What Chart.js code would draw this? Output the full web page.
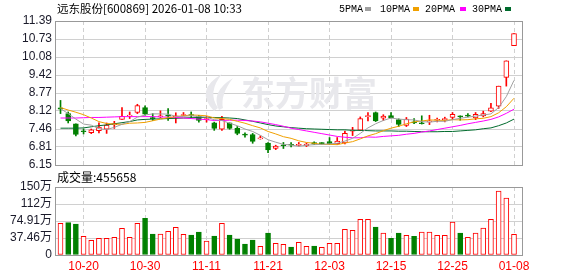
<!DOCTYPE html>
<html>
<head>
<meta charset="utf-8">
<script src="https://cdn.jsdelivr.net/npm/chart.js@4.4.1/dist/chart.umd.min.js"></script>
<style>
html, body { margin: 0; padding: 0; background: #fff; }
#wrap { position: relative; width: 578px; height: 276px; overflow: hidden; }
#wrap canvas { position: absolute; left: 0; }
</style>
</head>
<body>
<div id="wrap">
  <canvas id="kline" width="578" height="182" style="top:0"></canvas>
  <canvas id="vol" width="578" height="106" style="top:170px"></canvas>
</div>
<script>
// trading days shown (10-15 .. 01-08)
const dates = ['10-15','10-16','10-17','10-20','10-21','10-22','10-23','10-24','10-27','10-28',
  '10-29','10-30','10-31','11-03','11-04','11-05','11-06','11-07','11-10','11-11',
  '11-12','11-13','11-14','11-17','11-18','11-19','11-20','11-21','11-24','11-25',
  '11-26','11-27','11-28','12-01','12-02','12-03','12-04','12-05','12-08','12-09',
  '12-10','12-11','12-12','12-15','12-16','12-17','12-18','12-19','12-22','12-23',
  '12-24','12-25','12-26','12-29','12-30','12-31','01-05','01-06','01-07','01-08'];
const tickDates = ['10-20','10-30','11-11','11-21','12-03','12-15','12-25','01-08'];

const open = [8.23,8.02,7.65,7.37,7.33,7.40,7.45,7.62,7.81,7.93,
  8.06,8.24,7.87,7.90,7.96,7.90,7.95,7.96,7.92,7.80,
  7.68,7.45,7.68,7.48,7.25,7.26,7.10,6.95,6.75,6.86,
  6.88,6.86,6.85,6.97,6.94,7.00,6.93,6.95,7.38,7.42,
  7.91,8.06,7.85,7.95,7.80,7.59,7.70,7.68,7.72,7.78,
  7.80,7.88,7.94,7.95,7.86,7.94,8.11,8.29,9.34,10.49];
const high = [8.50,8.08,7.65,7.46,7.46,7.68,7.68,7.74,8.24,8.08,
  8.36,8.30,8.02,8.12,8.20,8.05,8.06,8.08,7.96,7.92,
  7.71,7.92,7.68,7.55,7.32,7.30,7.21,6.97,6.87,6.97,
  6.97,6.97,6.95,6.99,6.97,7.15,7.15,7.38,7.52,7.90,
  8.06,8.08,7.98,8.06,7.83,7.88,7.84,7.94,7.96,7.86,
  7.89,8.06,7.94,8.02,8.06,8.11,8.39,9.02,9.94,10.93];
const low = [8.02,7.68,7.21,7.28,7.29,7.32,7.30,7.48,7.81,7.84,
  8.02,7.96,7.77,7.87,7.77,7.68,7.94,7.87,7.71,7.71,
  7.41,7.41,7.45,7.25,7.16,6.94,7.09,6.60,6.71,6.75,
  6.81,6.84,6.82,6.89,6.90,6.90,6.90,6.92,7.22,7.40,
  7.75,7.73,7.77,7.85,7.55,7.55,7.65,7.64,7.62,7.72,
  7.72,7.80,7.78,7.90,7.80,7.90,8.09,8.21,9.02,10.49];
const close = [8.18,7.75,7.26,7.36,7.43,7.53,7.60,7.66,7.92,7.96,
  8.31,8.00,7.84,7.93,7.93,7.92,7.96,7.95,7.77,7.83,
  7.48,7.81,7.48,7.30,7.24,7.01,7.12,6.70,6.84,6.85,
  6.87,6.90,6.91,6.91,6.93,6.93,7.02,7.30,7.42,7.84,
  7.93,7.75,7.93,7.87,7.63,7.82,7.68,7.65,7.75,7.80,
  7.83,7.99,7.90,7.93,7.99,8.02,8.23,9.02,9.94,10.93];

const ma5 = [8.20,8.02,7.82,7.64,7.60,7.47,7.44,7.52,7.63,7.73,
  7.89,7.97,8.01,8.01,8.00,7.92,7.92,7.94,7.91,7.89,
  7.80,7.77,7.67,7.58,7.46,7.37,7.23,7.07,6.98,6.90,
  6.88,6.83,6.87,6.89,6.90,6.92,6.94,7.02,7.12,7.30,
  7.50,7.65,7.77,7.86,7.82,7.80,7.79,7.73,7.71,7.74,
  7.74,7.80,7.85,7.89,7.93,7.97,8.01,8.24,8.64,9.23];
const ma10 = [8.24,8.15,8.07,7.98,7.86,7.73,7.66,7.64,7.63,7.67,
  7.68,7.70,7.76,7.82,7.87,7.91,7.94,7.97,7.96,7.94,
  7.86,7.84,7.81,7.74,7.67,7.58,7.50,7.37,7.28,7.18,
  7.12,7.03,6.97,6.94,6.90,6.90,6.89,6.95,7.00,7.10,
  7.21,7.29,7.40,7.49,7.56,7.65,7.72,7.75,7.79,7.78,
  7.77,7.80,7.79,7.80,7.83,7.85,7.91,8.05,8.27,8.58];
const ma20 = [7.86,7.86,7.86,7.87,7.88,7.88,7.89,7.90,7.91,7.91,
  7.91,7.91,7.91,7.90,7.89,7.88,7.86,7.84,7.82,7.80,
  7.77,7.77,7.78,7.78,7.77,7.75,7.72,7.67,7.62,7.56,
  7.49,7.44,7.39,7.34,7.29,7.24,7.19,7.16,7.14,7.14,
  7.17,7.16,7.19,7.21,7.23,7.27,7.30,7.35,7.39,7.44,
  7.49,7.54,7.59,7.65,7.70,7.75,7.81,7.90,8.03,8.18];
const ma30 = [7.49,7.49,7.49,7.50,7.54,7.58,7.61,7.65,7.69,7.73,
  7.79,7.81,7.82,7.83,7.84,7.85,7.86,7.87,7.88,7.88,
  7.88,7.87,7.86,7.84,7.79,7.74,7.68,7.62,7.57,7.54,
  7.51,7.49,7.47,7.46,7.45,7.44,7.43,7.43,7.41,7.41,
  7.40,7.39,7.39,7.39,7.38,7.38,7.37,7.36,7.36,7.36,
  7.37,7.37,7.39,7.41,7.43,7.47,7.50,7.58,7.68,7.82];

// volume in 手, and whether the bar is drawn as a rise (red) or fall (green)
const volume = [698000,712000,683000,411000,323000,367000,367000,389000,588000,389000,
  698000,808000,463000,463000,521000,609000,455000,441000,507000,309000,
  419000,698000,441000,353000,242000,331000,191000,485000,257000,235000,
  176000,279000,191000,198000,169000,257000,257000,566000,544000,787000,
  787000,617000,485000,367000,485000,434000,412000,507000,507000,434000,
  434000,727000,485000,389000,485000,595000,787000,1410000,1256000,455658];
const volRise = [1,0,0,1,1,1,1,1,1,1,
  1,0,0,1,1,1,1,0,0,1,
  0,1,0,0,0,0,1,0,1,1,
  0,1,1,0,1,1,1,1,1,1,
  1,0,1,0,0,1,0,1,1,1,
  1,1,0,1,1,1,1,1,1,1];

const priceTicks = ['6.15','6.81','7.46','8.12','8.77','9.42','10.08','10.73','11.39'];
const volTicks = ['0','37.46万','74.91万','112万','150万'];
const volMax = 1498300;

const stockTitle = '远东股份[600869] 2026-01-08 10:33';
const maNames = ['5PMA', '10PMA', '20PMA', '30PMA'];

const RED = '#ff0000', GREEN = '#008000';
const maColors = ['#a0a0a0', '#f0a000', '#ff00ff', '#006b2d'];
const tickIdx = tickDates.map(d => dates.indexOf(d));
const X_MIN = -0.716, X_MAX = 60.04;

// border around the plot area
const frame = {
  id: 'frame',
  afterDatasetsDraw(chart) {
    const { ctx, chartArea: a } = chart;
    const x0 = Math.floor(a.left) + 0.5, x1 = Math.floor(a.right) + 0.5;
    const y0 = Math.floor(a.top) + 0.5, y1 = Math.floor(a.bottom) + 0.5;
    ctx.save();
    ctx.strokeStyle = '#999';
    ctx.lineWidth = 1;
    ctx.strokeRect(x0, y0, x1 - x0, y1 - y0);
    ctx.restore();
  }
};

// title line, MA legend and watermark of the price panel
const header = {
  id: 'header',
  beforeDatasetsDraw(chart) {
    const ctx = chart.ctx;
    ctx.save();
    ctx.fillStyle = '#e8e8ec';
    // swoosh of the logo
    ctx.beginPath();
    ctx.moveTo(214, 111);
    ctx.quadraticCurveTo(194, 90, 222, 74);
    ctx.quadraticCurveTo(207, 92, 218, 108);
    ctx.closePath();
    ctx.fill();
    ctx.beginPath();
    ctx.moveTo(219, 110);
    ctx.quadraticCurveTo(210, 92, 233, 78);
    ctx.quadraticCurveTo(220, 95, 223, 108);
    ctx.closePath();
    ctx.fill();
    ctx.font = 'bold 34px "Noto Sans CJK SC"';
    ctx.textBaseline = 'middle';
    ctx.fillText('东方财富', 241, 93);
    ctx.restore();
  },
  afterDraw(chart) {
    const ctx = chart.ctx;
    ctx.save();
    ctx.textBaseline = 'middle';
    ctx.fillStyle = '#000';
    ctx.font = '11.5px "Noto Sans CJK SC"';
    ctx.fillText(stockTitle, 57, 9);
    const textX = [339, 380, 425, 472];
    const boxX = [365, 413, 460, 505];
    ctx.font = '10px "Liberation Mono"';
    maNames.forEach((n, k) => {
      ctx.fillStyle = '#000';
      ctx.fillText(n, textX[k], 9);
      ctx.fillStyle = maColors[k];
      ctx.fillRect(boxX[k], 7, 6, 4);
    });
    ctx.restore();
  }
};

const volHeader = {
  id: 'volHeader',
  afterDraw(chart) {
    const ctx = chart.ctx;
    ctx.save();
    ctx.textBaseline = 'middle';
    ctx.fillStyle = '#000';
    ctx.font = '12px "Noto Sans CJK SC"';
    ctx.fillText('成交量:' + volume[volume.length - 1], 57, 7);
    ctx.restore();
  }
};

const isUp = dates.map((d, i) => close[i] >= open[i]);
const tickFont = { family: '"Liberation Sans", "Noto Sans CJK SC"', size: 12 };

function xScale(showLabels) {
  return {
    type: 'linear',
    min: X_MIN,
    max: X_MAX,
    offset: false,
    afterBuildTicks: s => { s.ticks = tickIdx.map(v => ({ value: v })); },
    afterFit: s => { s.height = showLabels ? 21 : 0; },
    ticks: {
      display: showLabels,
      autoSkip: false,
      maxRotation: 0,
      padding: 4,
      color: RED,
      font: tickFont,
      callback: v => dates[v]
    },
    grid: { color: '#d0d0d0', drawTicks: false, offset: false },
    border: { display: false, dash: [4, 3] }
  };
}

const maSets = [ma5, ma10, ma20, ma30].map((arr, k) => ({
  type: 'line',
  label: maNames[k],
  data: arr.map((v, i) => ({ x: i, y: v })),
  borderColor: maColors[k],
  borderWidth: 1,
  pointRadius: 0,
  tension: 0,
  order: 0
}));

new Chart(document.getElementById('kline'), {
  type: 'bar',
  data: {
    datasets: [
      ...maSets,
      {
        label: 'body',
        data: dates.map((d, i) => ({ x: i, y: [open[i], close[i]] })),
        backgroundColor: isUp.map(u => u ? '#ffffff' : GREEN),
        borderColor: isUp.map(u => u ? RED : GREEN),
        borderWidth: 1,
        borderSkipped: false,
        barThickness: 5,
        minBarLength: 1,
        grouped: false,
        order: 1
      },
      {
        label: 'wick',
        data: dates.map((d, i) => ({ x: i, y: [low[i], high[i]] })),
        backgroundColor: isUp.map(u => u ? RED : GREEN),
        borderWidth: 0,
        barThickness: 1,
        grouped: false,
        order: 2
      }
    ]
  },
  options: {
    responsive: false,
    animation: false,
    layout: { padding: { left: 0, right: 56, top: 21, bottom: 17 } },
    plugins: { legend: { display: false }, tooltip: { enabled: false } },
    scales: {
      x: xScale(false),
      y: {
        min: 6.15,
        max: 11.39,
        afterBuildTicks: s => { s.ticks = priceTicks.map(t => ({ value: Number(t) })); },
        afterFit: s => { s.width = 55; },
        ticks: { autoSkip: false, padding: 3, color: '#1a1a2a', font: tickFont, callback: (v, i) => priceTicks[i] },
        grid: { color: '#d0d0d0', drawTicks: false },
        border: { display: false }
      }
    }
  },
  plugins: [frame, header]
});

new Chart(document.getElementById('vol'), {
  type: 'bar',
  data: {
    datasets: [{
      label: 'volume',
      data: volume.map((v, i) => ({ x: i, y: v })),
      backgroundColor: volRise.map(r => r ? '#ffffff' : GREEN),
      borderColor: volRise.map(r => r ? RED : GREEN),
      borderWidth: 1,
      borderSkipped: false,
      barThickness: 5,
      grouped: false
    }]
  },
  options: {
    responsive: false,
    animation: false,
    layout: { padding: { left: 0, right: 56, top: 17, bottom: 0 } },
    plugins: { legend: { display: false }, tooltip: { enabled: false } },
    scales: {
      x: xScale(true),
      y: {
        min: 0,
        max: volMax,
        afterBuildTicks: s => { s.ticks = volTicks.map((t, k) => ({ value: volMax * k / 4 })); },
        afterFit: s => { s.width = 55; },
        ticks: { autoSkip: false, padding: 3, color: '#1a1a2a', font: tickFont, callback: (v, i) => volTicks[i] },
        grid: { color: '#d0d0d0', drawTicks: false },
        border: { display: false }
      }
    }
  },
  plugins: [frame, volHeader]
});
</script>
</body>
</html>
